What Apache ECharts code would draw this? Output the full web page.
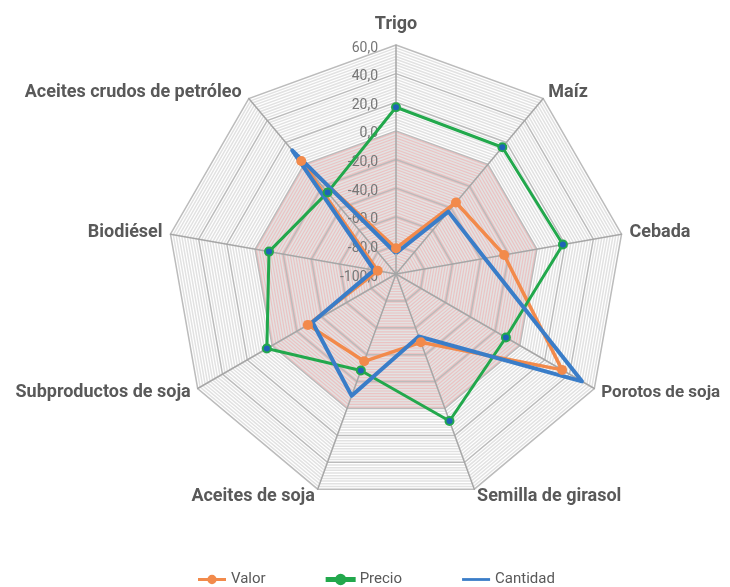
<!DOCTYPE html>
<html><head><meta charset="utf-8">
<script src="https://cdn.jsdelivr.net/npm/echarts@6/dist/echarts.min.js"></script>
<style>html,body{margin:0;padding:0;background:#fff}#c{width:730px;height:587px}</style>
</head><body><div id="c"></div>
<script>
const categories = ['Trigo', 'Maíz', 'Cebada', 'Porotos de soja', 'Semilla de girasol', 'Aceites de soja', 'Subproductos de soja', 'Biodiésel', 'Aceites crudos de petróleo'];
const valor    = [-82, -34.8, -23.3, 34, -49.2, -35.1, -28.9, -87, 3];
const precio   = [16.5, 15.6, 18.4, -11.3, 9.3, -28.2, 4.2, -9.9, -25.6];
const cantidad = [-85.5, -43.1, -37, 50, -53.5, -9.4, -32.6, -84.5, 12.8];
const axisMin = -100, axisMax = 60, axisStep = 20, minorStep = 2;

const FONT = 'Roboto, "Liberation Sans", sans-serif';
// clockwise layout: ECharts lays indicators counter-clockwise, so reverse after the first
const order = [0].concat(categories.slice(1).map((_, i) => categories.length - 1 - i));
const splitCount = (axisMax - axisMin) / minorStep;
const minorPerMajor = axisStep / minorStep;
const zeroIndex = (0 - axisMin) / minorStep;

const lineColors = [];
for (let i = 0; i < minorPerMajor; i++) lineColors.push(i === 0 ? '#bcbcbc' : '#e2e2e2');
const areaColors = [];
for (let i = 0; i < splitCount; i++) areaColors.push(i < zeroIndex ? '#ebc3c3' : '#ffffff');

const indicators = order.map((ci, k) => {
  const ind = { name: categories[ci], min: axisMin, max: axisMax };
  if (k === 0) {
    ind.axisLabel = {
      show: true, margin: 18, color: '#767676', fontSize: 14, fontFamily: FONT,
      formatter: v => (Math.round(v) % axisStep === 0) ? '{t|' + Math.round(v).toFixed(1).replace('.', ',') + '}' : '',
      rich: { t: { color: '#767676', fontSize: 14, fontFamily: FONT, padding: [6, 0, 0, 0] } }
    };
    ind.nameTextStyle = { padding: [0, 0, 4, 0] };
  }
  if (ci === 3) ind.nameTextStyle = { padding: [15, 0, 0, 0], fontSize: 17 };
  if (ci === 8) ind.nameTextStyle = { padding: [0, 2, 0, 0] };
  return ind;
});

const ORANGE = '#F28A4B', GREEN = '#22A84C', BLUE = '#3A7DC8', DOT = '#1F63B8';
const iconLineDot = 'path://M0,4H30V7H0Z M10,5.5a5,5 0 1,1 10,0a5,5 0 1,1 -10,0Z';
const iconLine = 'path://M0,4H30V7H0Z';

const chart = echarts.init(document.getElementById('c'), null, { renderer: 'canvas' });
chart.setOption({
  animation: false,
  backgroundColor: '#ffffff',
  legend: {
    left: 198, top: 572, padding: 0, itemWidth: 28, itemHeight: 11, itemGap: 60,
    textStyle: { color: '#595959', fontSize: 15, fontFamily: FONT },
    data: [
      { name: 'Valor', icon: iconLineDot, itemStyle: { color: ORANGE } },
      { name: 'Precio', icon: iconLineDot, itemStyle: { color: GREEN } },
      { name: 'Cantidad', icon: iconLine, itemStyle: { color: BLUE } }
    ]
  },
  radar: {
    center: [396, 274],
    radius: 229,
    startAngle: 90,
    splitNumber: splitCount,
    shape: 'polygon',
    indicator: indicators,
    nameGap: 8,
    axisName: { color: '#595959', fontSize: 18, fontWeight: 'bold', fontFamily: FONT },
    axisLabel: { show: false },
    axisTick: { show: false },
    axisLine: { lineStyle: { color: '#a6a6a6', width: 1.5 } },
    splitLine: { lineStyle: { color: lineColors, width: 1.5 } },
    splitArea: { show: true, areaStyle: { color: areaColors } }
  },
  series: [{
    type: 'radar',
    data: [
      { name: 'Valor', value: order.map(i => valor[i]), symbol: 'circle', symbolSize: 10,
        lineStyle: { color: ORANGE, width: 3.5 }, itemStyle: { color: ORANGE } },
      { name: 'Precio', value: order.map(i => precio[i]), symbol: 'circle', symbolSize: 8,
        lineStyle: { color: GREEN, width: 3 }, itemStyle: { color: DOT, borderColor: GREEN, borderWidth: 2 } },
      { name: 'Cantidad', value: order.map(i => cantidad[i]), symbol: 'none',
        lineStyle: { color: BLUE, width: 4 }, itemStyle: { color: BLUE } }
    ]
  }]
});
</script></body></html>
